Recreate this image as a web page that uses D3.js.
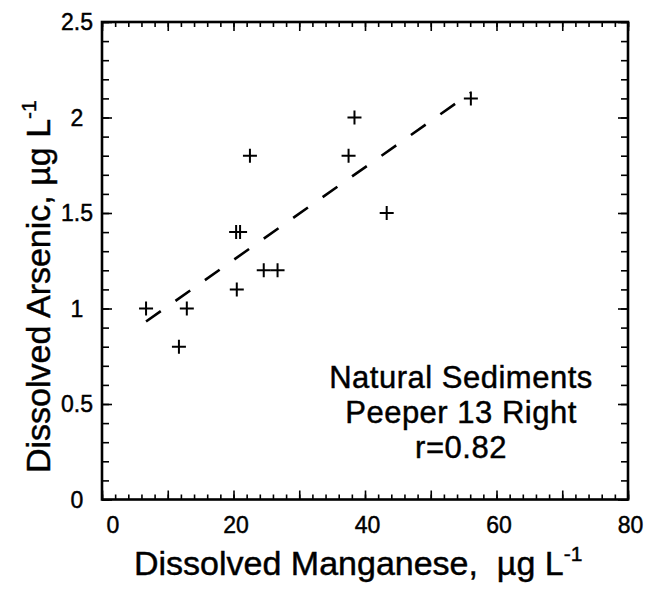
<!DOCTYPE html>
<html>
<head>
<meta charset="utf-8">
<script src="https://cdn.jsdelivr.net/npm/d3@7"></script>
<style>
  html, body { margin: 0; padding: 0; background: #fff; }
  svg { display: block; font-family: "Liberation Sans", Arial, Helvetica, sans-serif; }
  text { white-space: pre; fill: #000; stroke: #000; stroke-width: 0.45; }
</style>
</head>
<body>
<svg id="chart" width="660" height="589"></svg>
<script>
// Dissolved manganese (x) and arsenic (y), µg/L
const manganese = [6.7, 11.7, 12.9, 20.5, 20.4, 21.0, 22.5, 24.6, 26.7, 37.5, 38.4, 43.3, 56.1];
const arsenic   = [1.0, 0.8, 1.0, 1.1, 1.4, 1.4, 1.8, 1.2, 1.2, 1.8, 2.0, 1.5, 2.1];

const xTickLabels = [0, 20, 40, 60, 80];
const yTickLabels = [0, 0.5, 1, 1.5, 2, 2.5];
const noteLines = ["Natural Sediments", "Peeper 13 Right", "r=0.82"];

const svg = d3.select("#chart");
const plotLeft = 102, plotRight = 628, plotTop = 22, plotBottom = 499.5;

const x = d3.scaleLinear().domain([0, 80]).range([plotLeft, plotRight]);
const y = d3.scaleLinear().domain([0, 2.5]).range([plotBottom, plotTop]);

// tick positions (minor every 2 / 0.1, major every 10 / 0.5)
const xMinor = d3.range(0, 81, 2);
const xMajor = d3.range(0, 81, 10);
const yMinor = d3.range(0, 26).map(d => d / 10);
const yMajor = d3.range(0, 6).map(d => d / 2);

function tickGroup(axis, transform) {
  const g = svg.append("g").attr("transform", transform).call(axis);
  g.select(".domain").remove();
  g.selectAll("line").attr("stroke", "#000").attr("stroke-width", 1.6);
  return g;
}

// inward ticks on all four sides
tickGroup(d3.axisBottom(x).tickValues(xMinor).tickSize(-5).tickFormat(""), `translate(0,${plotBottom})`);
tickGroup(d3.axisBottom(x).tickValues(xMajor).tickSize(-9).tickFormat(""), `translate(0,${plotBottom})`);
tickGroup(d3.axisTop(x).tickValues(xMinor).tickSize(-5).tickFormat(""), `translate(0,${plotTop})`);
tickGroup(d3.axisTop(x).tickValues(xMajor).tickSize(-9).tickFormat(""), `translate(0,${plotTop})`);
tickGroup(d3.axisLeft(y).tickValues(yMinor).tickSize(-7).tickFormat(""), `translate(${plotLeft},0)`);
tickGroup(d3.axisLeft(y).tickValues(yMajor).tickSize(-10).tickFormat(""), `translate(${plotLeft},0)`);
tickGroup(d3.axisRight(y).tickValues(yMinor).tickSize(-7).tickFormat(""), `translate(${plotRight},0)`);
tickGroup(d3.axisRight(y).tickValues(yMajor).tickSize(-10).tickFormat(""), `translate(${plotRight},0)`);

// tick labels
svg.append("g").selectAll("text").data(xTickLabels).join("text")
  .attr("x", d => x(d) + (d === 0 ? 11 : 2.5))
  .attr("y", 533)
  .attr("text-anchor", "middle")
  .attr("font-size", 23)
  .text(d => d);

svg.append("g").selectAll("text").data(yTickLabels).join("text")
  .attr("x", 77)
  .attr("y", d => y(d))
  .attr("dy", "0.36em")
  .attr("text-anchor", "middle")
  .attr("font-size", 23)
  .text(d => d);

// frame
svg.append("rect")
  .attr("x", plotLeft).attr("y", plotTop)
  .attr("width", plotRight - plotLeft).attr("height", plotBottom - plotTop)
  .attr("fill", "none").attr("stroke", "#000").attr("stroke-width", 2.6);

// least-squares fit line
const n = manganese.length;
const mx = d3.mean(manganese), my = d3.mean(arsenic);
let sxy = 0, sxx = 0;
for (let i = 0; i < n; i++) {
  sxy += (manganese[i] - mx) * (arsenic[i] - my);
  sxx += (manganese[i] - mx) ** 2;
}
const slope = sxy / sxx, intercept = my - slope * mx;
const [x0, x1] = d3.extent(manganese);

svg.append("line")
  .attr("x1", x(x0)).attr("y1", y(intercept + slope * x0))
  .attr("x2", x(x1)).attr("y2", y(intercept + slope * x1))
  .attr("stroke", "#000").attr("stroke-width", 2.6)
  .attr("stroke-dasharray", "18,18");

// cross markers
const pts = manganese.map((m, i) => [m, arsenic[i]]);
const arm = 7;
const marks = svg.append("g").attr("stroke", "#000").attr("stroke-width", 2);
marks.selectAll("path").data(pts).join("path")
  .attr("d", d => {
    const px = x(d[0]), py = y(d[1]);
    return `M${px - arm},${py}H${px + arm}M${px},${py - arm}V${py + arm}`;
  });

// axis titles
const xt = svg.append("text")
  .attr("x", 134).attr("y", 575)
  .attr("font-size", 34);
xt.append("tspan").text("Dissolved Manganese,  µg L");
xt.append("tspan").attr("dy", -14).attr("font-size", 21).text("-1");

const yt = svg.append("text")
  .attr("transform", "translate(50,473) rotate(-90)")
  .attr("font-size", 34);
yt.append("tspan").text("Dissolved Arsenic, µg L");
yt.append("tspan").attr("dy", -14).attr("font-size", 21).text("-1");

// annotation
svg.append("g").selectAll("text").data(noteLines).join("text")
  .attr("x", 461)
  .attr("y", (d, i) => 388 + i * 35)
  .attr("text-anchor", "middle")
  .attr("font-size", 31)
  .attr("letter-spacing", 0.5)
  .text(d => d);
</script>
</body>
</html>
